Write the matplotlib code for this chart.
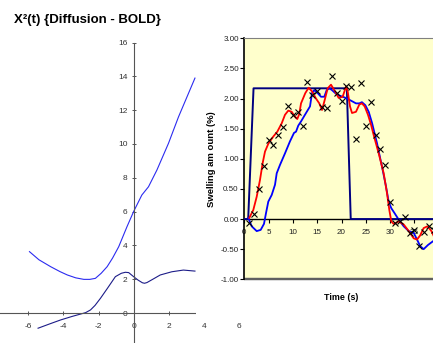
import matplotlib.pyplot as plt
from matplotlib.patches import Rectangle

plt.rcParams['font.family'] = ['Liberation Sans', 'DejaVu Sans']
plt.rcParams['axes.unicode_minus'] = False

# left chart: X^2(t) curves
curve_a_x = [-5.94, -5.4, -4.73, -4.2, -3.78, -3.3, -2.84, -2.5, -2.18, -1.85, -1.51, -1.2,
             -0.85, -0.38, 0.0, 0.47, 0.85, 1.33, 1.99, 2.56, 3.5]
curve_a_y = [3.63, 3.15, 2.74, 2.45, 2.25, 2.08, 1.99, 1.99, 2.05, 2.35, 2.74, 3.25,
             3.92, 5.1, 6.0, 6.98, 7.47, 8.46, 10.04, 11.6, 13.9]
curve_b_x = [-5.45, -4.8, -4.16, -3.5, -2.74, -2.46, -2.2, -1.89, -1.5, -1.04, -0.7, -0.47,
             -0.28, 0.0, 0.25, 0.5, 0.62, 0.76, 1.1, 1.52, 2.18, 2.84, 3.5]
curve_b_y = [-0.9, -0.65, -0.41, -0.2, 0.02, 0.18, 0.45, 0.87, 1.45, 2.15, 2.35, 2.41,
             2.39, 2.15, 1.95, 1.79, 1.76, 1.8, 2.0, 2.25, 2.44, 2.54, 2.48]
left_xticks = [-6, -4, -2, 0, 2, 4, 6]
left_yticks = [0, 2, 4, 6, 8, 10, 12, 14, 16]

# right chart: swelling amount vs time
box_t = [0, 0.8, 1.9, 21.1, 21.9, 40]
box_v = [0, 0, 2.17, 2.17, 0, 0]
scan_t = list(range(1, 40))
scan_v = [-0.06, 0.08, 0.50, 0.88, 1.31, 1.23, 1.39, 1.52, 1.88, 1.73,
          1.78, 1.55, 2.27, 2.06, 2.13, 1.86, 1.85, 2.38, 2.09, 1.96,
          2.21, 2.20, 1.33, 2.25, 1.54, 1.95, 1.39, 1.17, 0.90, 0.29,
          -0.07, -0.03, 0.03, -0.23, -0.19, -0.44, -0.22, -0.11, -0.18]
red_t = [1.03, 1.85, 2.55, 3.23, 3.78, 4.26, 4.94, 5.97, 6.79, 7.7, 8.37, 9.05, 9.75, 10.43,
         10.9, 11.3, 11.67, 12.55, 13.24, 13.93, 14.75, 15.43, 15.99, 16.46, 17.16, 17.84,
         18.52, 19.42, 20.24, 20.93, 21.27, 21.75, 22.16, 22.98, 23.66, 24.2, 24.77, 25.45,
         26.1, 26.6, 27.65, 28.68, 29.36, 29.84, 30.25, 30.74, 31.77, 32.8, 33.83, 34.86,
         35.54, 36.2, 36.9, 37.7, 38.5, 39.2]
red_v = [0.02, 0.15, 0.37, 0.65, 0.93, 1.12, 1.25, 1.37, 1.45, 1.59, 1.73, 1.80, 1.78, 1.70,
         1.66, 1.74, 1.92, 2.09, 2.18, 2.12, 2.0, 1.92, 1.81, 1.95, 2.17, 2.23,
         2.14, 2.01, 2.03, 2.2, 2.12, 1.87, 1.76, 1.78, 1.90, 1.92, 1.87, 1.73,
         1.56, 1.40, 1.09, 0.76, 0.43, 0.15, -0.04, -0.08, -0.04, -0.09, -0.2, -0.32,
         -0.34, -0.27, -0.15, -0.12, -0.2, -0.32]
blue_t = [0.82, 1.52, 2.55, 3.37, 4.05, 4.47, 4.94, 5.64, 6.32, 6.67, 7.35, 8.37, 9.4, 10.23,
          10.64, 11.1, 11.67, 12.7, 13.52, 13.93, 14.4, 15.1, 15.78, 16.46, 16.95, 17.5, 18.05,
          18.72, 19.55, 20.58, 21.6, 22.3, 22.98, 23.66, 24.2, 24.9, 25.6, 26.3, 27.3, 28.33,
          29.16, 29.7, 30.25, 30.9, 31.77, 32.8, 33.83, 34.86, 35.54, 36.2, 36.9, 37.8, 38.8]
blue_v = [0.02, -0.12, -0.2, -0.18, -0.08, 0.1, 0.29, 0.40, 0.57, 0.76, 0.9, 1.09, 1.29, 1.43,
          1.45, 1.55, 1.62, 1.76, 1.87, 2.09, 2.14, 2.09, 2.03, 2.03, 2.14, 2.17, 2.14,
          2.09, 2.05, 2.02, 1.98, 1.95, 1.92, 1.92, 1.94, 1.89, 1.78, 1.59, 1.26, 0.87,
          0.54, 0.29, 0.18, 0.1, -0.01, -0.12, -0.2, -0.23, -0.34, -0.45, -0.5, -0.43, -0.37]
right_yticks = [-1.0, -0.5, 0.0, 0.5, 1.0, 1.5, 2.0, 2.5, 3.0]
right_xticks = [0, 5, 10, 15, 20, 25, 30, 35]

W, H = 433, 343
fig = plt.figure(figsize=(W / 100, H / 100), dpi=100)

# ---- left chart, axes crossing at origin ----
ax1 = fig.add_axes([0, 0, 1, 1])
ax1.patch.set_visible(False)
x0, sx = 133.6, 17.53
y0, sy = 313.0, 16.9
ax1.set_xlim(-x0 / sx, (W - x0) / sx)
ax1.set_ylim((y0 - H) / sy, y0 / sy)
ax1.plot(curve_a_x, curve_a_y, color='#2b2bf0', lw=0.8)
ax1.plot(curve_b_x, curve_b_y, color='#1c1c88', lw=0.8)
for s in ['top', 'right']:
    ax1.spines[s].set_visible(False)
ax1.spines['left'].set_position(('data', 0))
ax1.spines['bottom'].set_position(('data', 0))
ax1.spines['left'].set_bounds((y0 - H) / sy, 16)
for s in ['left', 'bottom']:
    ax1.spines[s].set_color('#555555')
    ax1.spines[s].set_linewidth(0.8)
ax1.set_xticks(left_xticks)
ax1.set_yticks(left_yticks)
ax1.tick_params(direction='inout', length=3, width=0.7, color='#555555',
                labelsize=6, labelcolor='#333333')
ax1.tick_params(axis='x', pad=6)
ax1.tick_params(axis='y', pad=3)
fig.text(14 / W, 1 - 20 / H, 'X²(t) {Diffusion - BOLD}', fontsize=9.5,
         fontweight='bold', va='center', ha='left')

# ---- right chart: white chart area covering the left chart ----
bg = fig.add_axes([196 / W, 1 - 318 / H, 1 - 196 / W, (318 - 25) / H])
bg.set_facecolor('white')
bg.set_xticks([])
bg.set_yticks([])
for s in bg.spines.values():
    s.set_visible(False)

left_px, right_px = 244.3, 244.3 + 40 * 4.86
top_px, bot_px = 38.3, 279.3
ax2 = fig.add_axes([left_px / W, 1 - bot_px / H, (right_px - left_px) / W, (bot_px - top_px) / H])
ax2.set_facecolor('#ffffcc')
ax2.set_xlim(0, 40)
ax2.set_ylim(-1, 3)
ax2.plot(box_t, box_v, color='#000080', lw=1.4, zorder=3)
ax2.plot(blue_t, blue_v, color='#0000ff', lw=1.3, zorder=4)
ax2.plot(red_t, red_v, color='#ff0000', lw=1.3, zorder=5)
ax2.plot(scan_t, scan_v, ls='none', marker='x', color='black', ms=4, mew=0.8, zorder=6)

ax2.spines['left'].set_color('black')
ax2.spines['left'].set_linewidth(1.2)
ax2.spines['bottom'].set_position(('data', 0))
ax2.spines['bottom'].set_color('black')
ax2.spines['bottom'].set_linewidth(1.0)
ax2.spines['top'].set_color('#808080')
ax2.spines['right'].set_color('#808080')
ax2.add_patch(Rectangle((0, -1), 40, 0, fill=False, ec='#606060', lw=1.6, clip_on=False))
ax2.set_yticks(right_yticks)
ax2.set_yticklabels(['%.2f' % v for v in right_yticks])
ax2.set_xticks(right_xticks)
ax2.tick_params(direction='out', length=3, width=0.8, labelsize=5.8, labelcolor='#222222')
ax2.tick_params(axis='y', pad=1)
ax2.tick_params(axis='x', pad=4.5)
ax2.text(0.5, (bot_px - 297) / (bot_px - top_px), 'Time (s)', transform=ax2.transAxes,
         ha='center', va='center', fontsize=6.4, fontweight='bold')
fig.text(211.7 / W, 1 - 159 / H, 'Swelling am ount (%)', rotation=90, ha='center',
         va='center', fontsize=6.8, fontweight='bold')

fig.savefig('out.png', dpi=100)
